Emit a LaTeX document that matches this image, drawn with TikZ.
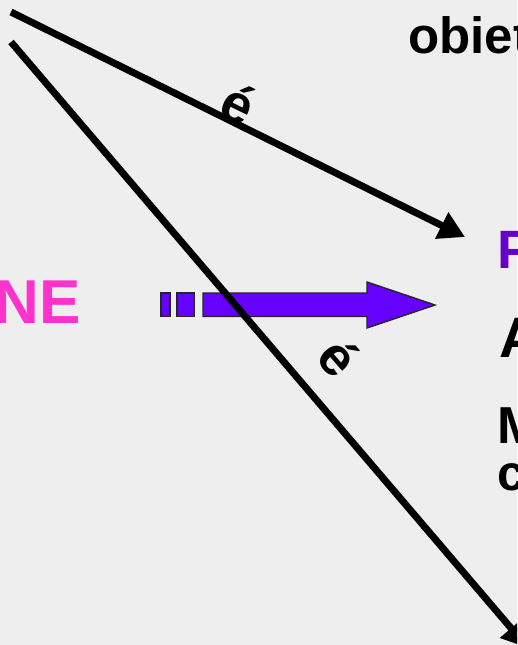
\documentclass[tikz,border=0pt]{standalone}
\usepackage{fontspec}
\setmainfont{Liberation Sans}
\usetikzlibrary{arrows.meta}
\definecolor{bg}{RGB}{238,238,238}
\definecolor{violetarrow}{RGB}{102,0,255}
\definecolor{violettext}{RGB}{102,0,204}
\definecolor{magentatext}{RGB}{255,51,204}
\begin{document}
\begin{tikzpicture}[x=1pt,y=-1pt,
  ray/.style={line width=7pt,-{Triangle[length=26pt,width=28pt]}},
  purpbox/.style={fill=violetarrow,draw=black!85,line width=1.4pt,line join=miter},
  txt/.style={inner sep=0pt,anchor=base west,font=\bfseries},
  elab/.style={inner sep=0pt,font=\fontsize{54}{54}\selectfont\bfseries}]
\useasboundingbox (0,0) rectangle (517,645);
\clip (0,0) rectangle (517,645);
\fill[bg] (0,0) rectangle (517,645);
% purple arrow
\draw[purpbox] (161,293) rectangle (170,316.5);
\draw[purpbox] (177,293) rectangle (194.5,316.5);
\draw[purpbox] (203,293) -- (367,293) -- (367,282) -- (435,305) -- (367,328) -- (367,316.5) -- (203,316.5) -- cycle;
% rays
\coordinate (s1) at (11,12);
\coordinate (t1) at (465,237);
\coordinate (s2) at (11,42);
\coordinate (t2) at (528,648);
\draw[ray] (s1) -- (t1);
\draw[ray] (s2) -- (t2);
% labels
\node[elab,rotate=-26] (e1) at (239,104) {é};
\node[elab,rotate=-49] (e2) at (339,357) {é};
% texts
\node[txt,font=\fontsize{51}{51}\selectfont\bfseries] (obiet) at (408,53) {obiet};
\node[txt,text=violettext,font=\fontsize{54}{54}\selectfont\bfseries] (p) at (497,268) {P};
\node[txt,font=\fontsize{57}{57}\selectfont\bfseries] (a) at (499,357) {A};
\node[txt,font=\fontsize{52}{52}\selectfont\bfseries] (m) at (497,443) {M};
\node[txt,font=\fontsize{50}{50}\selectfont\bfseries] (c) at (497,490) {c};
\node[inner sep=0pt,anchor=base east,text=magentatext,font=\fontsize{62}{62}\selectfont\bfseries] (ne) at (81,323) {NE};
\end{tikzpicture}
\end{document}
